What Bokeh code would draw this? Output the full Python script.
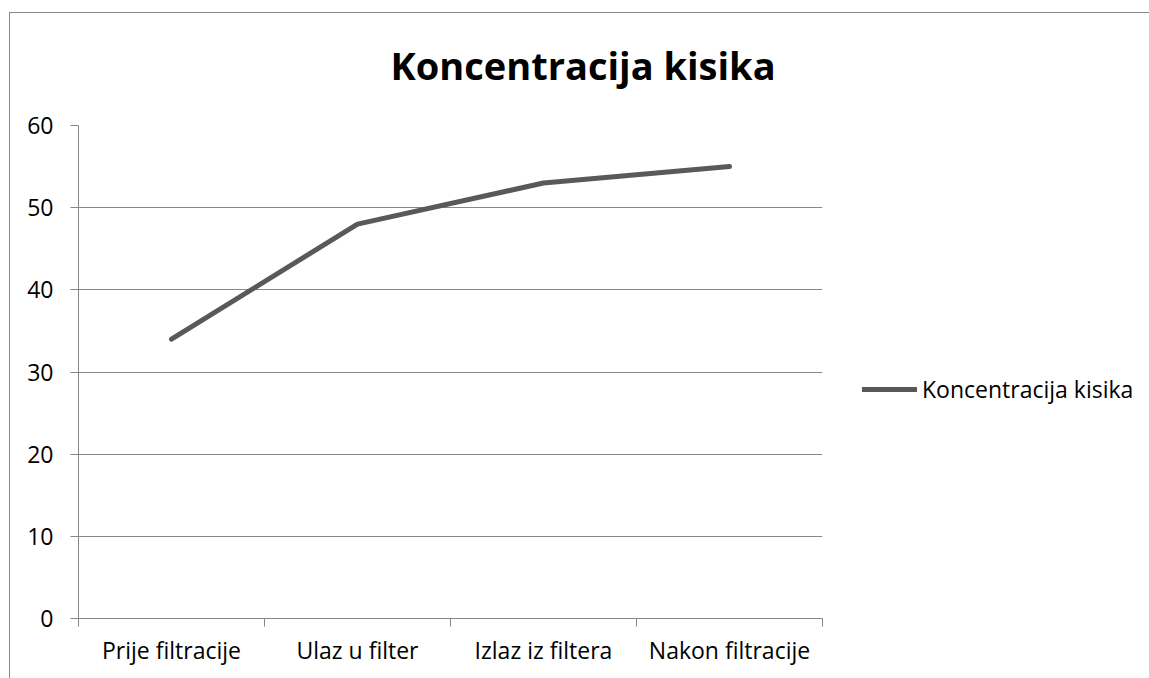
from bokeh.plotting import figure
from bokeh.models import FixedTicker, Legend, LegendItem, ColumnDataSource, Range1d
from bokeh.embed import file_html
from bokeh.resources import INLINE

categories = ["Prije filtracije", "Ulaz u filter", "Izlaz iz filtera", "Nakon filtracije"]
values = [34, 48, 53, 55]
y_ticks = [0, 10, 20, 30, 40, 50, 60]
title_text = "Koncentracija kisika"
series_name = "Koncentracija kisika"

FONT = "Open Sans"
GRAY = "#878787"
LINE = "#595959"

xs = [i + 0.5 for i in range(len(categories))]
src = ColumnDataSource(dict(x=xs, y=values))

p = figure(frame_width=744, frame_height=493, output_backend="svg", toolbar_location=None,
           x_range=Range1d(0, len(categories)), y_range=Range1d(0, 60),
           min_border_left=78, min_border_right=327,
           min_border_top=125, min_border_bottom=60)
# chart-area frame lines (left and top), drawn behind a transparent canvas
p.styles = {
    "background": (f"linear-gradient({GRAY},{GRAY}) 9px 12px / 1px 100% no-repeat, "
                   f"linear-gradient({GRAY},{GRAY}) 9px 12px / 100% 1px no-repeat, white"),
}
p.outline_line_color = None
p.background_fill_color = "white"
p.border_fill_color = None
p.border_fill_alpha = 0

r = p.line("x", "y", source=src, line_width=5, line_color=LINE, line_cap="round", line_join="round")

# title
p.title.text = title_text
p.title.text_font = FONT
p.title.text_font_style = "bold"
p.title.text_font_size = "38px"
p.title.text_color = "black"
p.title.align = "left"
p.title.offset = 312
p.title.standoff = 70

# x axis
p.xaxis.ticker = FixedTicker(ticks=xs, minor_ticks=list(range(len(categories) + 1)))
p.xaxis.major_label_overrides = {x: c for x, c in zip(xs, categories)}
p.xaxis.major_tick_line_color = None
p.xaxis.minor_tick_line_color = GRAY
p.xaxis.minor_tick_in = 0
p.xaxis.minor_tick_out = 8
p.xaxis.axis_line_color = GRAY
p.xaxis.major_label_text_font = FONT
p.xaxis.major_label_text_font_size = "23px"
p.xaxis.major_label_text_color = "black"
p.xaxis.major_label_standoff = 7
p.xgrid.grid_line_color = None

# y axis
p.yaxis.ticker = FixedTicker(ticks=y_ticks, minor_ticks=[])
p.yaxis.major_tick_line_color = GRAY
p.yaxis.major_tick_in = 0
p.yaxis.major_tick_out = 8
p.yaxis.minor_tick_line_color = None
p.yaxis.axis_line_color = GRAY
p.yaxis.major_label_text_font = FONT
p.yaxis.major_label_text_font_size = "23px"
p.yaxis.major_label_text_color = "black"
p.yaxis.major_label_standoff = 17
p.ygrid.grid_line_color = GRAY
p.ygrid.ticker = FixedTicker(ticks=y_ticks)

legend = Legend(items=[LegendItem(label=series_name, renderers=[r])],
                location=(40, 213), glyph_width=55, glyph_height=24, label_height=24,
                label_standoff=5, padding=0, margin=0, spacing=0,
                border_line_color=None, background_fill_alpha=0,
                label_text_font=FONT, label_text_font_size="23px", label_text_color="black")
p.add_layout(legend, "right")

open("out.html", "w").write(file_html(p, INLINE))
